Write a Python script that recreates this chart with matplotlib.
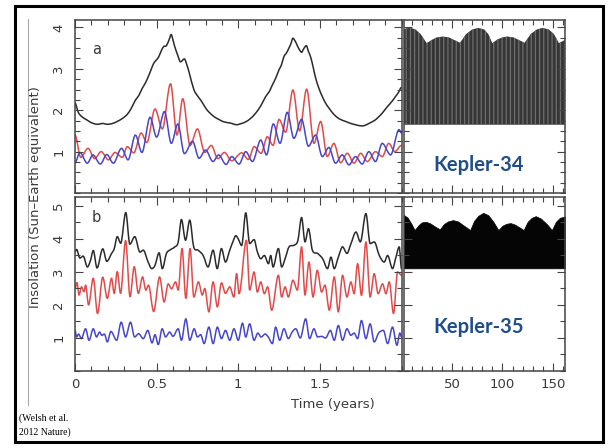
import matplotlib
matplotlib.use('Agg')
import matplotlib.pyplot as plt
from matplotlib.ticker import MultipleLocator, FixedLocator, FuncFormatter
from matplotlib.patches import Rectangle, PathPatch
from matplotlib.path import Path
from matplotlib.lines import Line2D

# ---------------- data ----------------
# Panel a (Kepler-34), time in years
ta_black = [0.00, 0.02, 0.04, 0.075, 0.10, 0.137, 0.17, 0.198, 0.23, 0.259, 0.29, 0.32, 0.345, 0.371, 0.39,
            0.412, 0.43, 0.452, 0.468, 0.483, 0.50, 0.514, 0.53, 0.544, 0.56, 0.578, 0.589, 0.60, 0.61, 0.63,
            0.646, 0.67, 0.685, 0.70, 0.728, 0.75, 0.769, 0.79, 0.81, 0.85, 0.88, 0.911, 0.952, 0.99, 1.02,
            1.046, 1.075, 1.107, 1.14, 1.168, 1.19, 1.209, 1.23, 1.25, 1.265, 1.28, 1.295, 1.31, 1.322, 1.335,
            1.35, 1.362, 1.375, 1.388, 1.40, 1.417, 1.43, 1.444, 1.46, 1.474, 1.495, 1.515, 1.535, 1.556,
            1.575, 1.596, 1.625, 1.657, 1.69, 1.718, 1.759, 1.78, 1.80, 1.82, 1.841, 1.86, 1.882, 1.90,
            1.923, 1.943, 1.963, 1.98, 2.0]
va_black = [2.17, 1.95, 1.85, 1.76, 1.70, 1.66, 1.68, 1.66, 1.68, 1.73, 1.80, 1.90, 2.05, 2.25, 2.35,
            2.53, 2.65, 2.84, 3.00, 3.14, 3.22, 3.30, 3.45, 3.54, 3.56, 3.72, 3.83, 3.70, 3.55, 3.32,
            3.17, 3.24, 3.10, 2.90, 2.50, 2.35, 2.25, 2.12, 2.00, 1.85, 1.78, 1.72, 1.69, 1.65, 1.68,
            1.72, 1.80, 1.93, 2.12, 2.33, 2.45, 2.61, 2.78, 2.98, 3.10, 3.30, 3.38, 3.50, 3.60, 3.74,
            3.66, 3.56, 3.46, 3.40, 3.48, 3.56, 3.42, 3.28, 3.02, 2.78, 2.52, 2.33, 2.17, 2.05,
            1.95, 1.86, 1.78, 1.73, 1.68, 1.65, 1.62, 1.64, 1.68, 1.72, 1.77, 1.84, 1.93, 2.02,
            2.13, 2.22, 2.33, 2.42, 2.55]

ta_red = [0.0, 0.035, 0.08, 0.12, 0.16, 0.205, 0.245, 0.29, 0.32, 0.36, 0.405, 0.44, 0.49, 0.535, 0.585,
          0.625, 0.66, 0.705, 0.75, 0.795, 0.835, 0.875, 0.915, 0.96, 1.021, 1.062, 1.097, 1.14, 1.178,
          1.213, 1.25, 1.29, 1.335, 1.376, 1.419, 1.464, 1.505, 1.545, 1.586, 1.627, 1.668, 1.709, 1.75,
          1.79, 1.841, 1.882, 1.922, 1.959, 2.0]
va_red = [1.40, 0.86, 1.08, 0.83, 1.00, 0.80, 0.98, 0.86, 1.12, 0.97, 1.45, 1.22, 2.03, 1.55, 2.64,
          1.40, 2.28, 1.15, 1.55, 0.98, 1.15, 0.83, 0.98, 0.78, 0.97, 0.81, 1.12, 0.96, 1.36,
          1.15, 1.78, 1.47, 2.49, 1.50, 2.51, 1.20, 1.73, 0.88, 1.20, 0.73, 0.96, 0.72, 0.96,
          0.76, 1.00, 0.88, 1.20, 1.00, 1.15]

ta_blue = [0.0, 0.03, 0.075, 0.11, 0.155, 0.195, 0.235, 0.285, 0.325, 0.37, 0.41, 0.46, 0.50, 0.548, 0.59,
           0.63, 0.67, 0.72, 0.76, 0.80, 0.845, 0.88, 0.925, 0.96, 1.005, 1.046, 1.087, 1.138, 1.173,
           1.215, 1.256, 1.30, 1.341, 1.388, 1.43, 1.474, 1.515, 1.555, 1.596, 1.637, 1.678, 1.718, 1.759,
           1.80, 1.841, 1.882, 1.933, 1.985, 2.0]
va_blue = [0.73, 0.98, 0.72, 0.92, 0.70, 0.93, 0.72, 1.08, 0.80, 1.40, 0.98, 1.83, 1.35, 1.97, 1.20,
           1.67, 0.95, 1.25, 0.84, 1.04, 0.76, 0.92, 0.69, 0.88, 0.70, 1.00, 0.76, 1.28, 0.92,
           1.67, 1.20, 1.95, 1.32, 1.78, 1.13, 1.40, 0.88, 1.10, 0.72, 0.92, 0.68, 0.88, 0.70,
           1.00, 0.76, 1.20, 0.92, 1.53, 1.45]

# Panel b (Kepler-35)
tb_black = [0.0, 0.01, 0.03, 0.05, 0.076, 0.095, 0.112, 0.135, 0.17, 0.195, 0.224, 0.24, 0.259, 0.28, 0.311,
            0.336, 0.366, 0.398, 0.418, 0.448, 0.47, 0.49, 0.515, 0.535, 0.56, 0.58, 0.612, 0.632, 0.652,
            0.677, 0.703, 0.727, 0.754, 0.785, 0.815, 0.846, 0.871, 0.897, 0.922, 0.948, 0.97, 0.985, 1.0,
            1.021, 1.046, 1.07, 1.097, 1.117, 1.138, 1.16, 1.185, 1.199, 1.213, 1.246, 1.266, 1.29, 1.311,
            1.342, 1.365, 1.388, 1.409, 1.43, 1.454, 1.486, 1.517, 1.547, 1.568, 1.588, 1.613, 1.639, 1.666,
            1.69, 1.721, 1.748, 1.782, 1.808, 1.833, 1.864, 1.894, 1.915, 1.945, 1.966, 1.986, 2.0]
vb_black = [3.62, 3.68, 3.42, 3.48, 3.15, 3.35, 3.65, 3.12, 3.70, 3.32, 3.56, 3.70, 4.07, 3.87, 4.80,
            3.84, 4.07, 3.60, 3.66, 3.30, 3.10, 3.20, 3.58, 3.10, 3.56, 3.66, 3.76, 3.90, 4.59,
            3.96, 4.57, 3.76, 3.66, 3.50, 3.15, 3.66, 3.10, 3.71, 3.30, 3.66, 3.95, 4.10, 4.00,
            3.80, 4.79, 3.86, 3.98, 3.61, 3.40, 3.50, 3.25, 3.50, 3.15, 3.71, 3.15, 3.45, 3.76,
            3.81, 3.95, 4.65, 3.91, 4.31, 3.66, 3.56, 3.40, 3.10, 3.45, 3.10, 3.45, 3.76, 3.56,
            3.85, 4.21, 3.91, 4.77, 3.86, 3.91, 3.50, 3.30, 3.50, 3.10, 3.45, 3.76, 3.10]

tb_red = [0.0, 0.012, 0.025, 0.04, 0.055, 0.065, 0.083, 0.112, 0.138, 0.17, 0.198, 0.224, 0.24, 0.259, 0.279,
          0.31, 0.337, 0.363, 0.388, 0.414, 0.434, 0.45, 0.482, 0.518, 0.546, 0.571, 0.591, 0.616, 0.632,
          0.656, 0.679, 0.705, 0.728, 0.756, 0.78, 0.795, 0.82, 0.846, 0.872, 0.897, 0.922, 0.948, 0.973,
          0.99, 1.005, 1.05, 1.07, 1.097, 1.117, 1.138, 1.16, 1.18, 1.205, 1.246, 1.266, 1.287, 1.307,
          1.335, 1.362, 1.388, 1.409, 1.433, 1.458, 1.484, 1.511, 1.531, 1.558, 1.588, 1.613, 1.639, 1.666,
          1.69, 1.71, 1.731, 1.755, 1.782, 1.808, 1.833, 1.857, 1.884, 1.905, 1.925, 1.951, 1.976, 2.0]
vb_red = [2.50, 2.68, 2.30, 2.55, 2.40, 2.60, 2.00, 2.81, 1.74, 2.84, 2.20, 2.81, 2.35, 3.01, 2.35,
          3.95, 2.25, 3.16, 2.35, 2.85, 2.45, 2.60, 1.80, 2.85, 2.09, 2.64, 2.49, 2.70, 2.45,
          3.71, 2.20, 3.71, 2.24, 2.70, 2.30, 2.50, 1.79, 2.70, 1.94, 2.67, 2.35, 2.55, 2.24,
          2.95, 2.34, 3.96, 2.45, 3.00, 2.39, 2.70, 2.34, 2.55, 1.84, 2.90, 2.24, 2.55, 2.24,
          2.75, 2.45, 3.76, 2.30, 3.30, 2.24, 3.05, 2.39, 2.60, 1.84, 2.85, 1.79, 2.90, 2.24,
          2.70, 2.34, 3.25, 2.29, 3.91, 2.24, 2.95, 2.34, 2.64, 2.34, 2.70, 1.74, 3.00, 2.90]

tb_blue = [0.0, 0.01, 0.022, 0.039, 0.065, 0.086, 0.112, 0.132, 0.15, 0.165, 0.18, 0.198, 0.22, 0.255, 0.283,
           0.31, 0.34, 0.365, 0.39, 0.418, 0.446, 0.472, 0.49, 0.51, 0.534, 0.555, 0.58, 0.60, 0.632,
           0.652, 0.679, 0.703, 0.73, 0.75, 0.77, 0.791, 0.82, 0.846, 0.872, 0.897, 0.922, 0.948, 0.974,
           1.0, 1.026, 1.046, 1.07, 1.097, 1.12, 1.14, 1.165, 1.185, 1.209, 1.229, 1.254, 1.28, 1.307,
           1.33, 1.352, 1.38, 1.413, 1.437, 1.464, 1.486, 1.51, 1.535, 1.564, 1.588, 1.613, 1.639, 1.666,
           1.69, 1.71, 1.731, 1.755, 1.782, 1.808, 1.833, 1.86, 1.889, 1.915, 1.945, 1.972, 1.99, 2.0]
vb_blue = [1.23, 1.03, 1.12, 0.98, 1.28, 0.93, 1.28, 1.03, 1.18, 1.08, 1.12, 0.88, 1.20, 0.93, 1.48,
           1.03, 1.48, 1.03, 1.13, 0.98, 1.23, 0.85, 1.10, 0.80, 1.28, 1.03, 1.18, 1.05, 1.28,
           0.93, 1.58, 0.93, 1.28, 1.03, 1.10, 0.83, 1.33, 0.83, 1.33, 0.98, 1.23, 0.93, 1.28,
           0.93, 1.45, 1.03, 1.43, 0.93, 1.15, 1.03, 1.12, 1.02, 0.83, 1.33, 0.93, 1.28, 0.98,
           1.18, 1.28, 1.00, 1.58, 0.98, 1.28, 1.03, 1.05, 1.00, 1.23, 0.93, 1.38, 0.93, 1.28,
           1.08, 1.15, 0.98, 1.53, 0.98, 1.43, 0.88, 1.15, 1.23, 0.83, 1.33, 0.78, 1.15, 1.03]

# Long-term envelopes (time in years)
T34 = [2, 5, 9, 14, 19, 25, 30, 35, 41, 47, 52, 58, 64, 70, 76, 82, 86, 90, 95, 100, 105, 111, 116,
       122, 128, 134, 140, 146, 151, 156, 162]
up34 = [3.95, 3.98, 3.99, 3.95, 3.84, 3.62, 3.70, 3.76, 3.78, 3.76, 3.70, 3.63, 3.84, 3.95, 3.99, 3.95,
        3.84, 3.62, 3.71, 3.76, 3.78, 3.76, 3.70, 3.63, 3.84, 3.95, 3.99, 3.95, 3.84, 3.62, 3.70]
low34 = [1.65] * len(T34)

T35 = [2, 6, 10, 13, 17, 20, 24, 28, 33, 38, 42, 46, 51, 56, 62, 68, 72, 76, 81, 86, 91, 96, 100, 104,
       108, 112, 117, 121, 125, 129, 133, 138, 144, 149, 153, 157, 162]
up35 = [4.73, 4.65, 4.45, 4.27, 4.42, 4.50, 4.52, 4.48, 4.38, 4.29, 4.45, 4.53, 4.57, 4.53, 4.40, 4.27,
        4.55, 4.70, 4.79, 4.72, 4.52, 4.27, 4.40, 4.46, 4.48, 4.44, 4.35, 4.27, 4.52, 4.64, 4.69, 4.62,
        4.45, 4.27, 4.52, 4.64, 4.68]
low35 = [3.11] * len(T35)

left_xticks = [0, 0.5, 1, 1.5]
right_xticks = [50, 100, 150]
a_yticks = [1, 2, 3, 4]
b_yticks = [1, 2, 3, 4, 5]

# ---------------- figure ----------------
W, H = 608, 448
fig = plt.figure(figsize=(W / 100, H / 100), dpi=100)
fig.patch.set_facecolor('white')


def box(l, t, r, b):
    return [l / W, 1 - b / H, (r - l) / W, (b - t) / H]


def smooth_line(ax, t, v, color, lw):
    """Draw the read points joined by smooth (Hermite-style) Bezier segments in data coordinates."""
    n = len(t)
    slopes = []
    for i in range(n):
        if i == 0 or i == n - 1:
            slopes.append(0.0)
            continue
        if (v[i] - v[i - 1]) * (v[i + 1] - v[i]) <= 0:
            slopes.append(0.0)
        else:
            slopes.append((v[i + 1] - v[i - 1]) / (t[i + 1] - t[i - 1]))
    verts = [(t[0], v[0])]
    codes = [Path.MOVETO]
    for i in range(1, n):
        dt = t[i] - t[i - 1]
        verts += [(t[i - 1] + dt / 3, v[i - 1] + slopes[i - 1] * dt / 3),
                  (t[i] - dt / 3, v[i] - slopes[i] * dt / 3),
                  (t[i], v[i])]
        codes += [Path.CURVE4] * 3
    ax.add_patch(PathPatch(Path(verts, codes), fill=False, edgecolor=color, lw=lw,
                           capstyle='round', joinstyle='round'))


ax_a = fig.add_axes(box(75, 20, 401.5, 193))
ax_b = fig.add_axes(box(75, 197, 401.5, 371))
ax_c = fig.add_axes(box(403.5, 20, 565, 193))
ax_d = fig.add_axes(box(403.5, 197, 565, 371))

C_K, C_R, C_B = '#2b2b2b', '#e24a4a', '#4646c8'
TXT = '#3a3a3a'

smooth_line(ax_a, ta_black, va_black, C_K, 1.1)
smooth_line(ax_a, ta_red, va_red, C_R, 1.1)
smooth_line(ax_a, ta_blue, va_blue, C_B, 1.1)
smooth_line(ax_b, tb_black, vb_black, C_K, 1.1)
smooth_line(ax_b, tb_red, vb_red, C_R, 1.1)
smooth_line(ax_b, tb_blue, vb_blue, C_B, 1.1)

plt.rcParams['hatch.linewidth'] = 0.9
ax_c.fill_between(T34, low34, up34, facecolor='#363636', edgecolor='#6e6e6e', hatch='||||', lw=0)
ax_d.fill_between(T35, low35, up35, facecolor='#050505', edgecolor='#050505', lw=0.5)

for ax in (ax_a, ax_b):
    ax.set_xlim(0, 2.0)
for ax in (ax_c, ax_d):
    ax.set_xlim(2, 162)
for ax in (ax_a, ax_c):
    ax.set_ylim(0, 4.18)
for ax in (ax_b, ax_d):
    ax.set_ylim(0, 5.27)

for ax in (ax_a, ax_b):
    ax.xaxis.set_major_locator(FixedLocator(left_xticks))
    ax.xaxis.set_minor_locator(MultipleLocator(0.1))
for ax in (ax_c, ax_d):
    ax.xaxis.set_major_locator(FixedLocator(right_xticks))
    ax.xaxis.set_minor_locator(MultipleLocator(10))
for ax in (ax_a, ax_c):
    ax.yaxis.set_major_locator(FixedLocator(a_yticks))
    ax.yaxis.set_minor_locator(MultipleLocator(0.25))
for ax in (ax_b, ax_d):
    ax.yaxis.set_major_locator(FixedLocator(b_yticks))
    ax.yaxis.set_minor_locator(MultipleLocator(0.5))

fmt = FuncFormatter(lambda v, p: '%g' % v)
for ax in (ax_a, ax_b, ax_c, ax_d):
    ax.xaxis.set_major_formatter(fmt)
    ax.yaxis.set_major_formatter(fmt)
    ax.tick_params(which='both', direction='in', top=True, right=True, bottom=True, left=True,
                   color='#444444', width=0.8, labelsize=9.5, labelcolor=TXT)
    ax.tick_params(which='major', length=6)
    ax.tick_params(which='minor', length=3.5)
    ax.tick_params(axis='x', pad=5)
    ax.tick_params(axis='y', pad=7, labelrotation=90)
    for s in ax.spines.values():
        s.set_color('#444444')
        s.set_linewidth(1.1)

ax_a.tick_params(labelbottom=False)
ax_c.tick_params(labelbottom=False, labelleft=False)
ax_d.tick_params(labelleft=False)
for lab in ax_a.get_yticklabels() + ax_b.get_yticklabels():
    lab.set_verticalalignment('center')

# panel letters
fig.text(96.5 / W, 1 - 49 / H, 'a', fontsize=10.5, color=TXT, ha='center', va='center')
fig.text(96.5 / W, 1 - 218 / H, 'b', fontsize=10.5, color=TXT, ha='center', va='center')

# axis labels
fig.text(333 / W, 1 - 404 / H, 'Time (years)', fontsize=9.5, color=TXT, ha='center', va='center')
fig.text(36 / W, 1 - 197 / H, 'Insolation (Sun\u2013Earth equivalent)', fontsize=9.5, color=TXT,
         ha='center', va='center', rotation=90)

# Kepler labels
fig.text(479 / W, 1 - 165 / H, 'Kepler-34', fontsize=14.5, fontweight='bold', family='Lato',
         color='#1f4e8a', ha='center', va='center')
fig.text(479 / W, 1 - 327 / H, 'Kepler-35', fontsize=14.5, fontweight='bold', family='Lato',
         color='#1f4e8a', ha='center', va='center')

# citation
fig.text(19 / W, 1 - 418 / H, '(Welsh et al.', fontsize=7, family='Liberation Serif',
         color='black', ha='left', va='center')
fig.text(19 / W, 1 - 432 / H, '2012 Nature)', fontsize=7, family='Liberation Serif',
         color='black', ha='left', va='center')

# thin gray image frame line and slide border
fig.add_artist(Line2D([28 / W, 28 / W], [1 - 19 / H, 1 - 405 / H], color='#aaaaaa', lw=0.8,
                      transform=fig.transFigure))
fig.add_artist(Rectangle((14.5 / W, 1 - 442 / H), (602.5 - 14.5) / W, (442 - 6) / H, fill=False,
                         ec='black', lw=2.2, transform=fig.transFigure))

fig.savefig('out.png', dpi=100, facecolor='white')
